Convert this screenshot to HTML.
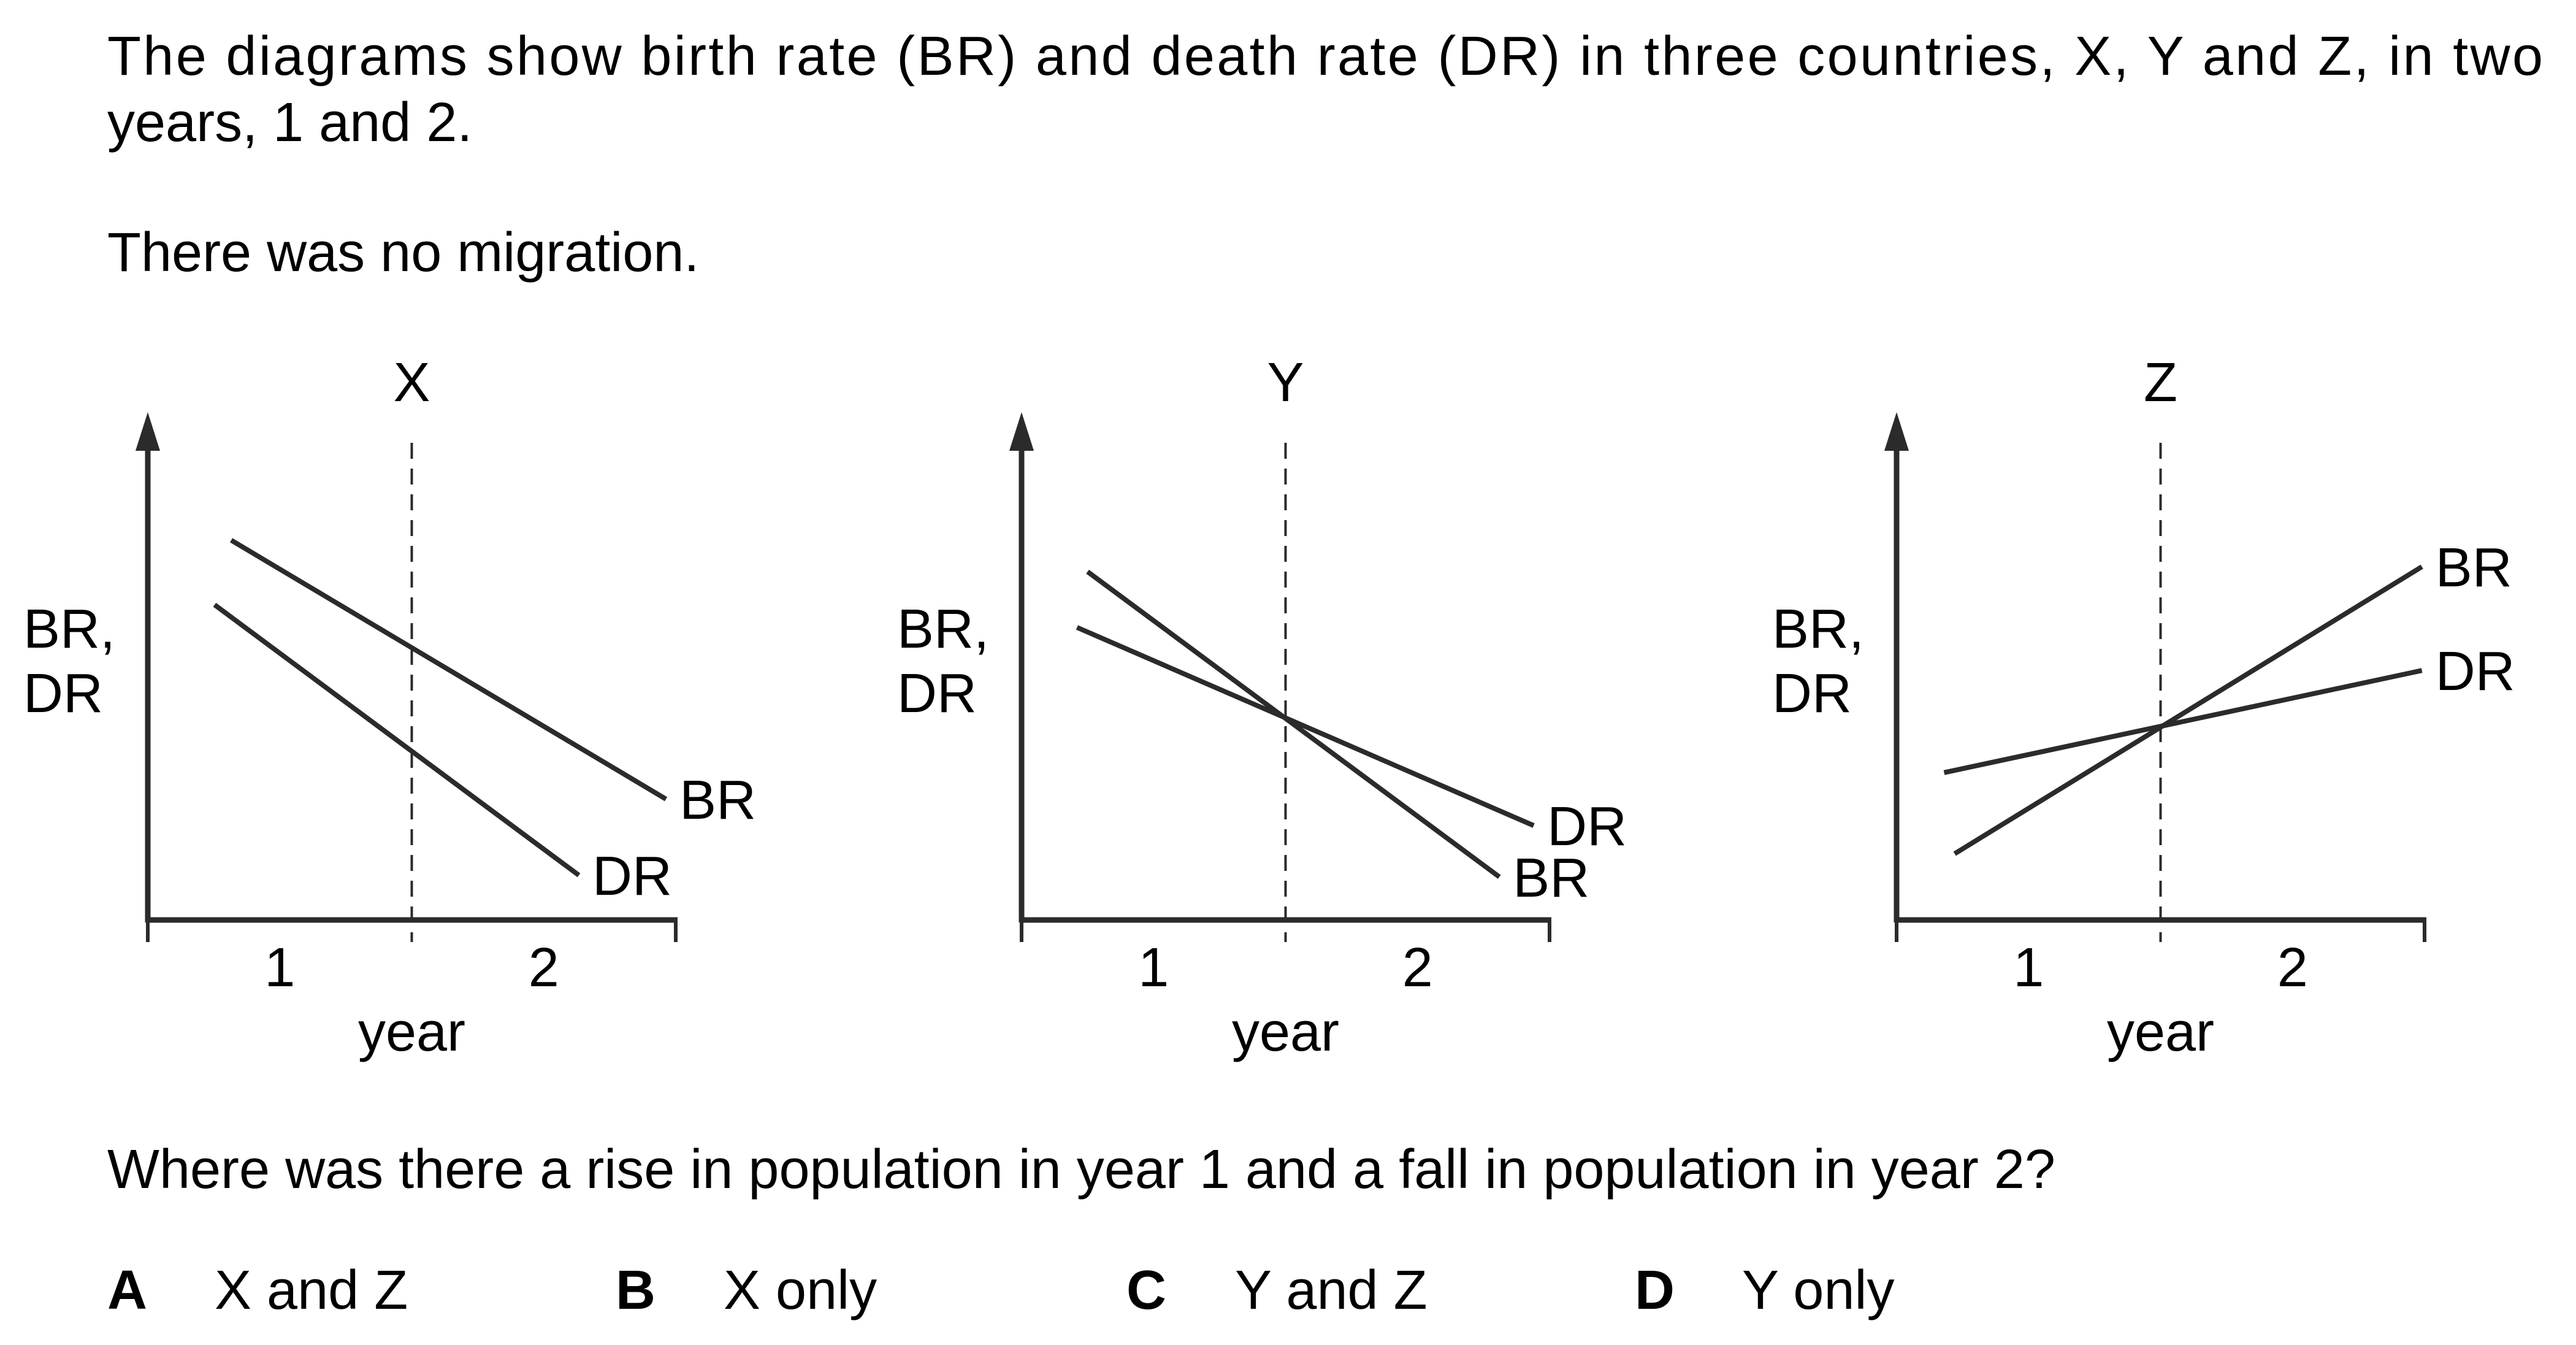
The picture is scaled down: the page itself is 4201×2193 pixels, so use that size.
<!DOCTYPE html>
<html><head><meta charset="utf-8"><style>
html,body{margin:0;padding:0;background:#fff}
svg{display:block}
text{font-family:"Liberation Sans",Arial,sans-serif;fill:#000}
</style></head><body>
<svg id="root" width="4201" height="2193" viewBox="0 0 4201 2193" xmlns="http://www.w3.org/2000/svg">
<text x="175" y="122" font-size="90" textLength="3972" lengthAdjust="spacing">The diagrams show birth rate (BR) and death rate (DR) in three countries, X, Y and Z, in two</text>
<text x="175" y="230" font-size="90">years, 1 and 2.</text>
<text x="175" y="442" font-size="90">There was no migration.</text>
<g id="charts"></g>
<text x="175" y="1937" font-size="90">Where was there a rise in population in year 1 and a fall in population in year 2?</text>
<g><text x="175" y="2134" font-size="90" font-weight="bold">A</text><text x="350" y="2134" font-size="90">X and Z</text></g>
<g><text x="1004" y="2134" font-size="90" font-weight="bold">B</text><text x="1180" y="2134" font-size="90">X only</text></g>
<g><text x="1837" y="2134" font-size="90" font-weight="bold">C</text><text x="2014" y="2134" font-size="90">Y and Z</text></g>
<g><text x="2666" y="2134" font-size="90" font-weight="bold">D</text><text x="2841" y="2134" font-size="90">Y only</text></g>
</svg>
<script>
const countries = ["X", "Y", "Z"];
const brStartYear = [0.316, 0.25, 0.22];
const brStartValue = [68.8, 63.1, 12.0];
const brEndYear = [1.963, 1.81, 1.99];
const brEndValue = [21.9, 7.8, 64.0];
const drStartYear = [0.253, 0.21, 0.18];
const drStartValue = [57.1, 53.0, 26.7];
const drEndYear = [1.633, 1.94, 1.99];
const drEndValue = [8.1, 17.1, 45.2];
const yearTicks = ["1", "2"];

const NS = "http://www.w3.org/2000/svg";
const host = document.getElementById("charts");
const offsets = [0, 1425, 2852];
const col = "#2b2b2b";
function mk(tag, attrs, parent) {
  const e = document.createElementNS(NS, tag);
  for (const k in attrs) e.setAttribute(k, attrs[k]);
  parent.appendChild(e);
  return e;
}
countries.forEach((c, i) => {
  const ox = 241 + offsets[i];
  const y0 = 1500, unitX = 430.5, unitY = 9.0;
  const xs = v => ox + v * unitX;
  const ys = v => y0 - v * unitY;
  const g = mk("g", {}, host);
  
  
  const t = mk("text", {x: xs(1), y: 654, "font-size": 90, "text-anchor": "middle"}, g);
  t.textContent = c;
  
  
  const ya = mk("line", {x1: ox, y1: y0 + 4, x2: ox, y2: 730, stroke: col, "stroke-width": 9}, g);
  
  
  const ar = mk("polygon", {points: `${ox - 20},735 ${ox + 20},735 ${ox},672`, fill: col}, g);
  
  
  const xa = mk("line", {x1: ox, y1: y0, x2: xs(2) + 3, y2: y0, stroke: col, "stroke-width": 9}, g);
  
  
  [0, 2].forEach(v => {
    const tk = mk("line", {x1: xs(v), y1: y0, x2: xs(v), y2: 1536, stroke: col, "stroke-width": 6}, g);
    
    
  });
  const dl = mk("line", {x1: xs(1), y1: 722, x2: xs(1), y2: 1536, stroke: col, "stroke-width": 4, "stroke-dasharray": "26 16"}, g);
  
  
  yearTicks.forEach((lab, k) => {
    const tl = mk("text", {x: xs(0.5 + k), y: 1608, "font-size": 90, "text-anchor": "middle"}, g);
    tl.textContent = lab;
    
    
  });
  const xt = mk("text", {x: xs(1), y: 1713, "font-size": 90, "text-anchor": "middle"}, g);
  xt.textContent = "year";
  
  
  const yt1 = mk("text", {x: ox - 203, y: 1056, "font-size": 90}, g);
  yt1.textContent = "BR,";
  
  
  const yt2 = mk("text", {x: ox - 203, y: 1161, "font-size": 90}, g);
  yt2.textContent = "DR";
  
  
  const series = [
    ["BR", brStartYear[i], brStartValue[i], brEndYear[i], brEndValue[i]],
    ["DR", drStartYear[i], drStartValue[i], drEndYear[i], drEndValue[i]]
  ];
  series.forEach(s => {
    const ln = mk("line", {x1: xs(s[1]), y1: ys(s[2]), x2: xs(s[3]), y2: ys(s[4]), stroke: col, "stroke-width": 8}, g);
    
    
    const lb = mk("text", {x: xs(s[3]) + 22, y: ys(s[4]) + 32, "font-size": 90}, g);
    lb.textContent = s[0];
    
    
  });
});
</script>
</body></html>
